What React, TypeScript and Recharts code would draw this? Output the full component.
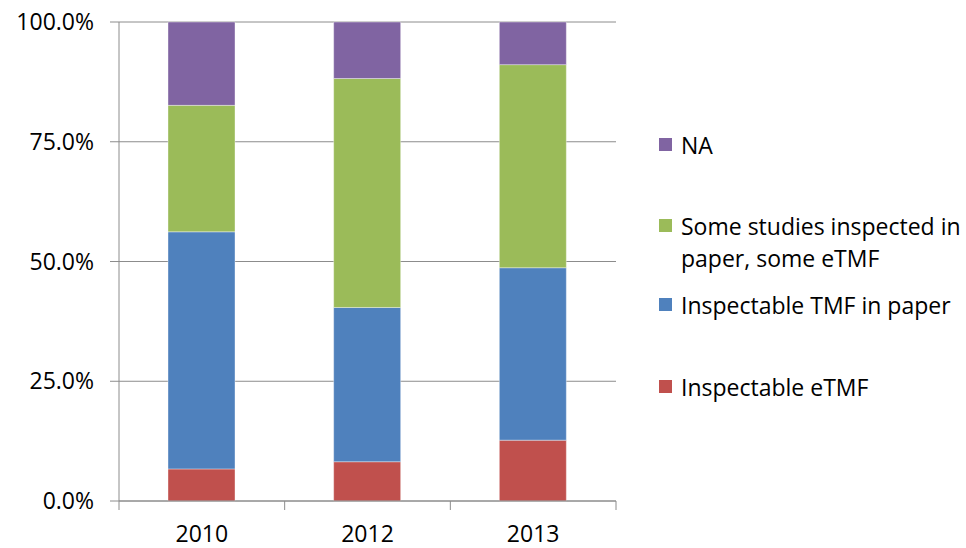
import { BarChart, Bar, XAxis, YAxis, CartesianGrid } from "recharts";

const years = ["2010", "2012", "2013"];
// share of inspections, percent
const inspectableEtmf = [6.7, 8.2, 12.7];
const inspectablePaper = [49.5, 32.2, 36.0];
const someOfEach = [26.4, 47.8, 42.4];
const notApplicable = [17.4, 11.8, 8.9];
const yTicks = [0, 25, 50, 75, 100];

const series = [
  { key: "etmf", name: "Inspectable eTMF", color: "#C0504D", values: inspectableEtmf },
  { key: "paper", name: "Inspectable TMF in paper", color: "#4F81BD", values: inspectablePaper },
  { key: "mixed", name: "Some studies inspected in\npaper, some eTMF", color: "#9BBB59", values: someOfEach },
  { key: "na", name: "NA", color: "#8064A2", values: notApplicable },
];

const data = years.map((year, i) => {
  const row: Record<string, string | number> = { year };
  series.forEach((s) => (row[s.key] = s.values[i]));
  return row;
});

const W = 966;
const H = 548;
const MARGIN = { top: 22, right: 350, bottom: 0, left: 0 };
const Y_AXIS_W = 119;
const X_AXIS_H = 47;
const TICK = 9;
const X_TICK_GAP = 16;
const BAND = (W - MARGIN.right - MARGIN.left - Y_AXIS_W) / years.length;
const AXIS_COLOR = "#8c8c8c";
const FONT = '"Open Sans", sans-serif';
const FONT_SIZE = 23;

// legend rows, top to bottom, by centre of the first text line
const legendCentres = [145, 226, 305, 387];

function YearTick(props: any) {
  const { x, y, payload, index } = props;
  const axisY = y - TICK - X_TICK_GAP;
  const half = BAND / 2;
  return (
    <g>
      <line x1={x - half} x2={x - half} y1={axisY} y2={axisY + TICK} stroke={AXIS_COLOR} />
      {index === years.length - 1 && (
        <line x1={x + half} x2={x + half} y1={axisY} y2={axisY + TICK} stroke={AXIS_COLOR} />
      )}
      <text x={x} y={y} dy="0.71em" textAnchor="middle" fontSize={FONT_SIZE} fill="#000" fontFamily={FONT}>
        {payload.value}
      </text>
    </g>
  );
}

export default function App() {
  const legendItems = [...series].reverse();
  return (
    <div
      style={{
        position: "absolute",
        left: 0,
        top: 0,
        width: W,
        height: H,
        background: "#fff",
        fontFamily: FONT,
      }}
    >
      <BarChart width={W} height={H} data={data} margin={MARGIN} barSize={67}>
        <CartesianGrid vertical={false} stroke={AXIS_COLOR} />
        <XAxis
          dataKey="year"
          height={X_AXIS_H}
          tickSize={TICK}
          tickMargin={X_TICK_GAP}
          tickLine={false}
          axisLine={{ stroke: AXIS_COLOR }}
          tick={<YearTick />}
          interval={0}
        />
        <YAxis
          width={Y_AXIS_W}
          domain={[0, 100]}
          ticks={yTicks}
          tickFormatter={(v) => `${Number(v).toFixed(1)}%`}
          tickSize={TICK}
          tickMargin={16}
          tickLine={{ stroke: AXIS_COLOR }}
          axisLine={{ stroke: AXIS_COLOR }}
          tick={{ fontSize: FONT_SIZE, fill: "#000", fontFamily: FONT }}
        />
        {series.map((s) => (
          <Bar
            key={s.key}
            dataKey={s.key}
            name={s.name}
            stackId="total"
            fill={s.color}
            stroke="#ffffff"
            strokeOpacity={0.5}
            strokeWidth={0.75}
            isAnimationActive={false}
          />
        ))}
      </BarChart>
      {legendItems.map((s, i) => (
        <div
          key={s.key}
          style={{
            position: "absolute",
            left: 659,
            top: legendCentres[i] - 16,
            display: "flex",
            alignItems: "flex-start",
            fontSize: FONT_SIZE,
            lineHeight: "32px",
            color: "#000",
            whiteSpace: "pre",
          }}
        >
          <span
            style={{
              display: "inline-block",
              width: 13,
              height: 13,
              marginTop: 9,
              marginRight: 9,
              background: s.color,
            }}
          />
          <span>{s.name}</span>
        </div>
      ))}
    </div>
  );
}
